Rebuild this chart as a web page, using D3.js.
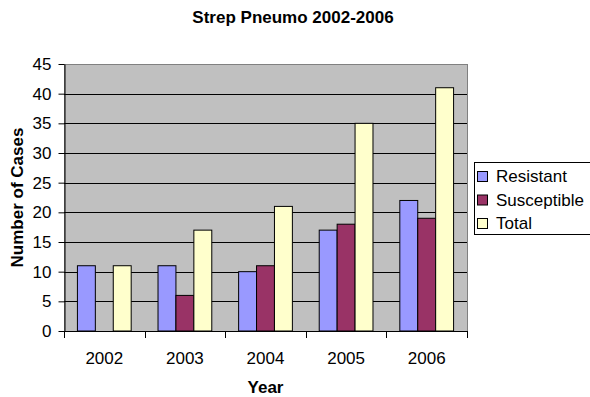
<!DOCTYPE html>
<html>
<head>
<meta charset="utf-8">
<script src="https://cdn.jsdelivr.net/npm/d3@7"></script>
<style>
  body { margin: 0; background: #fff; }
  svg { font-family: "Liberation Sans", Arial, sans-serif; }
</style>
</head>
<body>
<div id="chart"></div>
<script>
const years = ["2002", "2003", "2004", "2005", "2006"];
const seriesNames = ["Resistant", "Susceptible", "Total"];
const resistant = [11, 11, 10, 17, 22];
const susceptible = [0, 6, 11, 18, 19];
const total = [11, 17, 21, 35, 41];
const yTicks = [0, 5, 10, 15, 20, 25, 30, 35, 40, 45];
const colors = ["#9999FF", "#993366", "#FFFFCC"];

const width = 590, height = 397;
const plot = {left: 64, right: 467, top: 64, bottom: 331};
const fontFam = "Liberation Sans, Arial, sans-serif";

const svg = d3.select("#chart").append("svg")
    .attr("width", width)
    .attr("height", height);

// outer band gives the 150% gap width look
const x = d3.scaleBand()
    .domain(years)
    .range([plot.left, plot.right])
    .paddingInner(0.333)
    .paddingOuter(0.1665);

const x0 = d3.scaleBand()
    .domain(years)
    .range([plot.left, plot.right]);

const xs = d3.scaleBand()
    .domain(seriesNames)
    .range([0, x.bandwidth()]);

const y = d3.scaleLinear()
    .domain([0, 45])
    .range([plot.bottom, plot.top]);

// plot background
svg.append("rect")
    .attr("x", plot.left + 0.5)
    .attr("y", plot.top + 0.5)
    .attr("width", plot.right - plot.left)
    .attr("height", plot.bottom - plot.top)
    .attr("fill", "#C0C0C0")
    .attr("stroke", "#808080")
    .attr("stroke-width", 1);

// gridlines
svg.append("g")
    .selectAll("line")
    .data(yTicks.filter(t => t > 0 && t < 45))
    .join("line")
    .attr("x1", plot.left)
    .attr("x2", plot.right)
    .attr("y1", d => Math.round(y(d)) + 0.5)
    .attr("y2", d => Math.round(y(d)) + 0.5)
    .attr("stroke", "#000")
    .attr("stroke-width", 1);

// bars
const rows = years.map((yr, i) => ({year: yr, values: [resistant[i], susceptible[i], total[i]]}));

const groups = svg.append("g")
    .selectAll("g")
    .data(rows)
    .join("g")
    .attr("transform", d => `translate(${x(d.year)},0)`);

groups.selectAll("rect")
    .data(d => d.values.map((v, j) => ({name: seriesNames[j], value: v, j})))
    .join("rect")
    .filter(d => d.value > 0)
    .attr("x", d => xs(d.name))
    .attr("y", d => y(d.value))
    .attr("width", xs.bandwidth())
    .attr("height", d => y(0) - y(d.value))
    .attr("fill", d => colors[d.j])
    .attr("stroke", "#000")
    .attr("stroke-width", 1);

// y axis
const yAxis = svg.append("g")
    .attr("transform", `translate(${plot.left + 0.5},0)`)
    .call(d3.axisLeft(y).tickValues(yTicks).tickSize(6).tickSizeOuter(0).tickPadding(7));
yAxis.selectAll("text").attr("font-size", 17).attr("fill", "#000").attr("font-family", fontFam);
yAxis.select(".domain").attr("stroke", "#000");

// x axis
const xAxis = svg.append("g")
    .attr("transform", `translate(0,${plot.bottom})`)
    .call(d3.axisBottom(x0).tickSize(0).tickPadding(21));
xAxis.select(".domain").attr("stroke", "#000").attr("d", `M${plot.left},0.5H${plot.right}`);
xAxis.selectAll("text").attr("font-size", 17).attr("fill", "#000").attr("font-family", fontFam);
svg.append("g")
    .selectAll("line")
    .data(years.map(yr => x0(yr)).concat([plot.right]))
    .join("line")
    .attr("x1", d => Math.round(d) + 0.5)
    .attr("x2", d => Math.round(d) + 0.5)
    .attr("y1", plot.bottom)
    .attr("y2", plot.bottom + 7)
    .attr("stroke", "#000");

// titles
svg.append("text")
    .attr("x", 293)
    .attr("y", 23)
    .attr("text-anchor", "middle")
    .attr("font-size", 17)
    .attr("font-weight", "bold")
    .text("Strep Pneumo 2002-2006");

svg.append("text")
    .attr("x", (plot.left + plot.right) / 2)
    .attr("y", 393)
    .attr("text-anchor", "middle")
    .attr("font-size", 17)
    .attr("font-weight", "bold")
    .text("Year");

svg.append("text")
    .attr("transform", `translate(23,${(plot.top + plot.bottom) / 2}) rotate(-90)`)
    .attr("text-anchor", "middle")
    .attr("font-size", 17)
    .attr("font-weight", "bold")
    .text("Number of Cases");

// legend
const legend = svg.append("g").attr("transform", "translate(474,162)");
legend.append("rect")
    .attr("x", 0.5).attr("y", 0.5)
    .attr("width", 120).attr("height", 72)
    .attr("fill", "#fff")
    .attr("stroke", "#000");
const items = legend.selectAll("g")
    .data(seriesNames)
    .join("g")
    .attr("transform", (d, i) => `translate(0,${20 + i * 23.5})`);
items.append("rect")
    .attr("x", 3.5).attr("y", -10.5)
    .attr("width", 10).attr("height", 10)
    .attr("fill", (d, i) => colors[i])
    .attr("stroke", "#000");
items.append("text")
    .attr("x", 22)
    .attr("y", 0)
    .attr("font-size", 17)
    .text(d => d);
</script>
</body>
</html>
